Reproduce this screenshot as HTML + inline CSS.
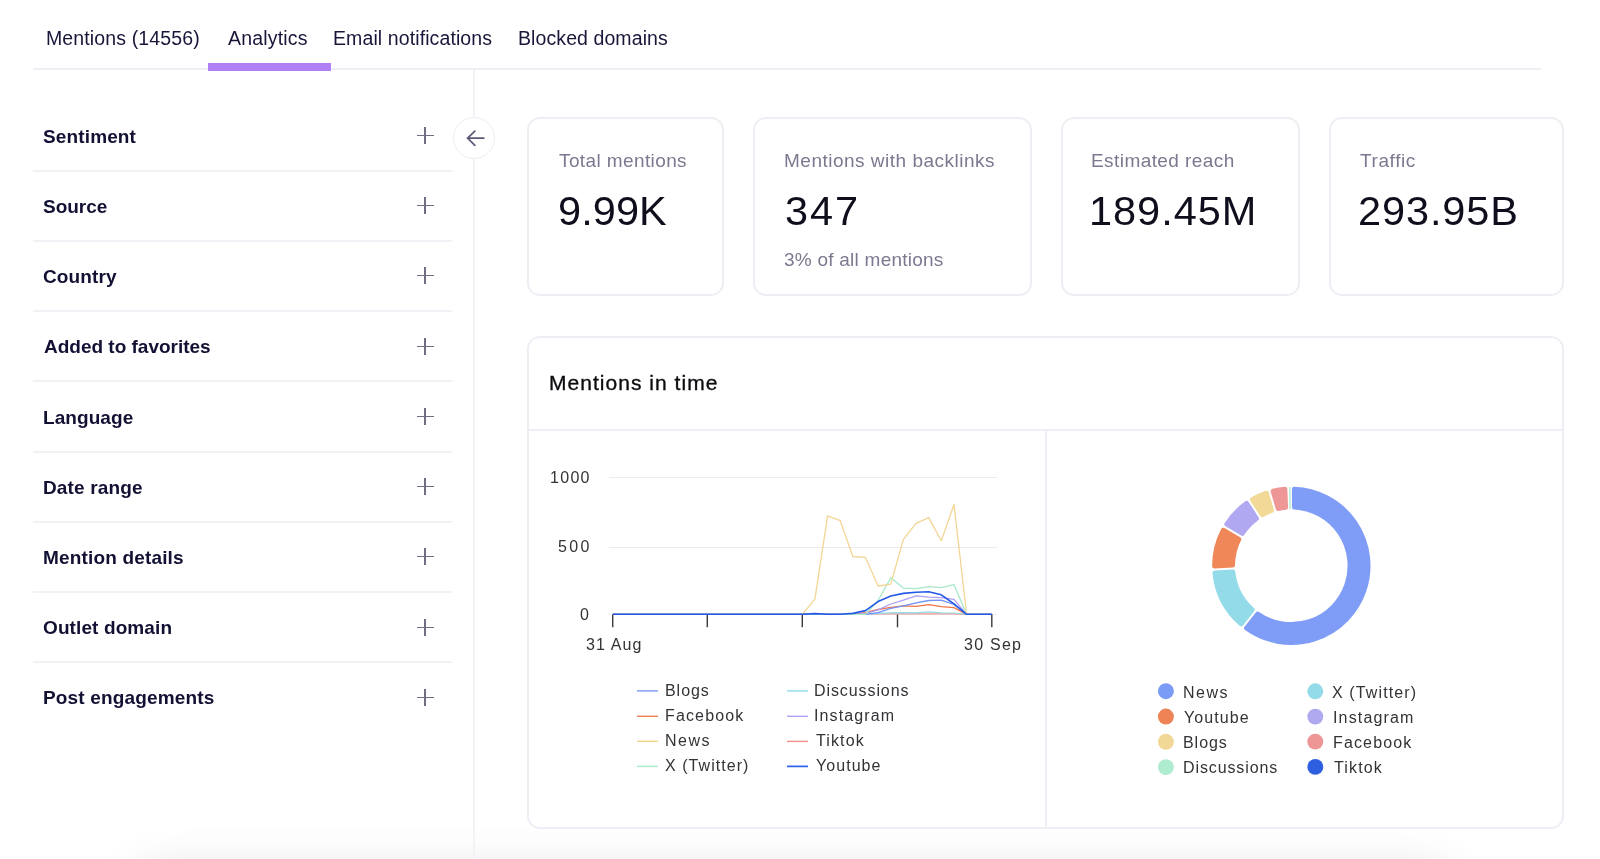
<!DOCTYPE html>
<html>
<head>
<meta charset="utf-8">
<title>Analytics</title>
<style>
*{box-sizing:border-box;margin:0;padding:0}
html,body{width:1600px;height:859px;overflow:hidden;background:#fff}
body{position:relative;font-family:"Liberation Sans",sans-serif;color:#1b1a3c}
.a{position:absolute;white-space:nowrap;will-change:transform}
.dv{position:absolute;left:33px;width:419px;height:2px;background:#f2f1f6}
.plus{position:absolute;width:17px;height:17px;margin-left:-0.4px}
.plus:before,.plus:after{content:"";position:absolute;background:#706e84}
.plus:before{left:0;top:7.6px;width:17px;height:1.8px}
.plus:after{left:7.6px;top:0;width:1.8px;height:17px}
.card{position:absolute;border:2px solid #efeef4;border-radius:13px;background:#fff}
.dot{position:absolute;width:16px;height:16px;border-radius:50%}
.sw{position:absolute;width:21px;height:1.6px}
.shadow{position:absolute;left:135px;top:875px;width:1315px;height:40px;border-radius:20px;box-shadow:0 0 50px 0 rgba(0,0,0,0.155)}
</style>
</head>
<body>
<div class="shadow"></div>
<!-- tabs -->
<div style="position:absolute;left:33px;top:68px;width:1508px;height:2px;background:#efeef4"></div>
<div style="position:absolute;left:208px;top:63px;width:123px;height:8px;background:#b080f5"></div>

<!-- vertical divider -->
<div style="position:absolute;left:473px;top:70px;width:1.5px;height:789px;background:#f3f2f7"></div>

<!-- sidebar dividers -->
<div class="dv" style="top:170px"></div>
<div class="dv" style="top:240px"></div>
<div class="dv" style="top:310px"></div>
<div class="dv" style="top:380px"></div>
<div class="dv" style="top:451px"></div>
<div class="dv" style="top:521px"></div>
<div class="dv" style="top:591px"></div>
<div class="dv" style="top:661px"></div>

<div class="plus" style="left:417px;top:127px"></div>
<div class="plus" style="left:417px;top:197px"></div>
<div class="plus" style="left:417px;top:267px"></div>
<div class="plus" style="left:417px;top:338px"></div>
<div class="plus" style="left:417px;top:408px"></div>
<div class="plus" style="left:417px;top:478px"></div>
<div class="plus" style="left:417px;top:548px"></div>
<div class="plus" style="left:417px;top:619px"></div>
<div class="plus" style="left:417px;top:689px"></div>

<!-- collapse button -->
<div style="position:absolute;left:453px;top:117px;width:42px;height:42px;border-radius:50%;border:1.5px solid #edecf3;background:#fff"></div>

<!-- cards -->
<div class="card" style="left:527px;top:117px;width:197px;height:179px"></div>
<div class="card" style="left:753px;top:117px;width:279px;height:179px"></div>
<div class="card" style="left:1061px;top:117px;width:239px;height:179px"></div>
<div class="card" style="left:1329px;top:117px;width:235px;height:179px"></div>

<!-- chart card -->
<div class="card" style="left:527px;top:336px;width:1037px;height:493px"></div>
<div style="position:absolute;left:529px;top:429px;width:1033px;height:1.5px;background:#efeef4"></div>
<div style="position:absolute;left:1045px;top:430px;width:1.5px;height:397px;background:#efeef4"></div>

<!-- legend swatches -->


<svg style="position:absolute;left:0;top:0" width="1600" height="859" viewBox="0 0 1600 859">
<path d="M483.8 138.2H467.4M474.9 131.1L467.6 138.2L474.9 145.4" fill="none" stroke="#5c5a78" stroke-width="1.7" stroke-linecap="round" stroke-linejoin="round"/>
<line x1="609" y1="477.5" x2="997" y2="477.5" stroke="#ebeaf1" stroke-width="1"/>
<line x1="609" y1="547.5" x2="997" y2="547.5" stroke="#ebeaf1" stroke-width="1"/>
<line x1="609" y1="614.3" x2="997" y2="614.3" stroke="#ebeaf1" stroke-width="1"/>
<line x1="612.7" y1="614.3" x2="612.7" y2="627.3" stroke="#3a3a3e" stroke-width="1.4"/>
<line x1="707.3" y1="614.3" x2="707.3" y2="627.3" stroke="#3a3a3e" stroke-width="1.4"/>
<line x1="802.3" y1="614.3" x2="802.3" y2="627.3" stroke="#3a3a3e" stroke-width="1.4"/>
<line x1="897.5" y1="614.3" x2="897.5" y2="627.3" stroke="#3a3a3e" stroke-width="1.4"/>
<line x1="991.8" y1="614.3" x2="991.8" y2="627.3" stroke="#3a3a3e" stroke-width="1.4"/>
<polyline points="612.7,614.3 625.3,614.3 638.0,614.3 650.6,614.3 663.3,614.3 675.9,614.3 688.5,614.3 701.2,614.3 713.8,614.3 726.5,614.3 739.1,614.3 751.7,614.3 764.4,614.3 777.0,614.3 789.7,614.3 802.3,614.3 814.9,614.3 827.6,614.3 840.2,614.3 852.9,614.3 865.5,613.8 878.1,613.8 890.8,613.8 903.4,613.8 916.1,613.8 928.7,613.8 941.3,613.8 954.0,613.8 966.6,614.3 979.3,614.3 991.9,614.3" fill="none" stroke="#f3938f" stroke-width="1.2" stroke-linejoin="round"/>
<polyline points="612.7,614.3 625.3,614.3 638.0,614.3 650.6,614.3 663.3,614.3 675.9,614.3 688.5,614.3 701.2,614.3 713.8,614.3 726.5,614.3 739.1,614.3 751.7,614.3 764.4,614.3 777.0,614.3 789.7,614.3 802.3,614.3 814.9,614.3 827.6,614.3 840.2,614.3 852.9,614.3 865.5,614.3 878.1,613.3 890.8,612.8 903.4,612.7 916.1,612.9 928.7,611.9 941.3,612.9 954.0,613.0 966.6,614.3 979.3,614.3 991.9,614.3" fill="none" stroke="#8edbe8" stroke-width="1.2" stroke-linejoin="round"/>
<polyline points="612.7,614.3 625.3,614.3 638.0,614.3 650.6,614.3 663.3,614.3 675.9,614.3 688.5,614.3 701.2,614.3 713.8,614.3 726.5,614.3 739.1,614.3 751.7,614.3 764.4,614.3 777.0,614.3 789.7,614.3 802.3,614.3 814.9,614.3 827.6,614.3 840.2,614.3 852.9,614.3 865.5,612.6 878.1,609.5 890.8,607.3 903.4,605.9 916.1,606.3 928.7,604.6 941.3,606.7 954.0,607.7 966.6,614.3 979.3,614.3 991.9,614.3" fill="none" stroke="#ef7447" stroke-width="1.3" stroke-linejoin="round"/>
<polyline points="612.7,614.3 625.3,614.3 638.0,614.3 650.6,614.3 663.3,614.3 675.9,614.3 688.5,614.3 701.2,614.3 713.8,614.3 726.5,614.3 739.1,614.3 751.7,614.3 764.4,614.3 777.0,614.3 789.7,614.3 802.3,614.3 814.9,614.3 827.6,614.3 840.2,614.3 852.9,614.3 865.5,614.3 878.1,612.6 890.8,608.3 903.4,605.9 916.1,602.8 928.7,600.5 941.3,600.1 954.0,604.4 966.6,614.3 979.3,614.3 991.9,614.3" fill="none" stroke="#7393f5" stroke-width="1.3" stroke-linejoin="round"/>
<polyline points="612.7,614.3 625.3,614.3 638.0,614.3 650.6,614.3 663.3,614.3 675.9,614.3 688.5,614.3 701.2,614.3 713.8,614.3 726.5,614.3 739.1,614.3 751.7,614.3 764.4,614.3 777.0,614.3 789.7,614.3 802.3,614.3 814.9,614.3 827.6,614.3 840.2,614.3 852.9,614.3 865.5,613.7 878.1,609.8 890.8,604.0 903.4,600.1 916.1,595.8 928.7,597.2 941.3,597.7 954.0,599.3 966.6,614.3 979.3,614.3 991.9,614.3" fill="none" stroke="#ad9ff5" stroke-width="1.3" stroke-linejoin="round"/>
<polyline points="612.7,614.3 625.3,614.3 638.0,614.3 650.6,614.3 663.3,614.3 675.9,614.3 688.5,614.3 701.2,614.3 713.8,614.3 726.5,614.3 739.1,614.3 751.7,614.3 764.4,614.3 777.0,614.3 789.7,614.3 802.3,614.3 814.9,614.3 827.6,614.3 840.2,614.3 852.9,614.3 865.5,614.3 878.1,600.5 890.8,577.8 903.4,588.1 916.1,588.7 928.7,586.6 941.3,587.6 954.0,584.7 966.6,614.3 979.3,614.3 991.9,614.3" fill="none" stroke="#a6e8c9" stroke-width="1.3" stroke-linejoin="round"/>
<polyline points="612.7,614.3 625.3,614.3 638.0,614.3 650.6,614.3 663.3,614.3 675.9,614.3 688.5,614.3 701.2,614.3 713.8,614.3 726.5,614.3 739.1,614.3 751.7,614.3 764.4,614.3 777.0,614.3 789.7,614.3 802.3,614.3 814.9,599.1 827.6,515.8 840.2,520.7 852.9,556.5 865.5,557.4 878.1,586.0 890.8,584.1 903.4,539.4 916.1,523.3 928.7,517.6 941.3,540.8 954.0,504.5 966.6,614.3 979.3,614.3 991.9,614.3" fill="none" stroke="#f3d594" stroke-width="1.3" stroke-linejoin="round"/>
<polyline points="612.7,614.3 625.3,614.3 638.0,614.3 650.6,614.3 663.3,614.3 675.9,614.3 688.5,614.3 701.2,614.3 713.8,614.3 726.5,614.3 739.1,614.3 751.7,614.3 764.4,614.3 777.0,614.3 789.7,614.3 802.3,614.3 814.9,613.6 827.6,614.3 840.2,614.3 852.9,613.4 865.5,610.6 878.1,601.6 890.8,596.0 903.4,593.4 916.1,592.2 928.7,591.7 941.3,594.8 954.0,603.8 966.6,614.3 979.3,614.3 991.9,614.3" fill="none" stroke="#2458e6" stroke-width="1.6" stroke-linejoin="round"/>
<path d="M1294.30,489.06 A76.80,76.80 0 1 1 1246.42,628.12 L1257.65,613.90 A58.70,58.70 0 1 0 1294.39,507.18 Z" fill="#7f9df7" stroke="#7f9df7" stroke-width="4.8" stroke-linejoin="round"/>
<path d="M1241.08,623.90 A76.80,76.80 0 0 1 1214.82,572.81 L1232.92,571.96 A58.70,58.70 0 0 0 1252.31,609.68 Z" fill="#93dbe9" stroke="#93dbe9" stroke-width="4.8" stroke-linejoin="round"/>
<path d="M1214.50,566.02 A76.80,76.80 0 0 1 1223.28,530.14 L1238.94,539.26 A58.70,58.70 0 0 0 1232.60,565.16 Z" fill="#ef8759" stroke="#ef8759" stroke-width="4.8" stroke-linejoin="round"/>
<path d="M1226.70,524.27 A76.80,76.80 0 0 1 1246.66,503.31 L1256.53,518.50 A58.70,58.70 0 0 0 1242.36,533.38 Z" fill="#b0a8f0" stroke="#b0a8f0" stroke-width="4.8" stroke-linejoin="round"/>
<path d="M1252.36,499.60 A76.80,76.80 0 0 1 1266.50,493.11 L1271.59,510.51 A58.70,58.70 0 0 0 1262.23,514.80 Z" fill="#f2d998" stroke="#f2d998" stroke-width="4.8" stroke-linejoin="round"/>
<path d="M1273.03,491.20 A76.80,76.80 0 0 1 1284.96,489.26 L1285.65,507.37 A58.70,58.70 0 0 0 1278.12,508.60 Z" fill="#ef9796" stroke="#ef9796" stroke-width="4.8" stroke-linejoin="round"/>
<line x1="1290.21" y1="509.01" x2="1289.79" y2="487.11" stroke="#aeeccf" stroke-width="1.4"/>
<line x1="637" y1="690.9" x2="658" y2="690.9" stroke="#7b9cf6" stroke-width="1.4"/>
<line x1="637" y1="716.3" x2="658" y2="716.3" stroke="#f07f58" stroke-width="1.4"/>
<line x1="637" y1="741.3" x2="658" y2="741.3" stroke="#f3d48f" stroke-width="1.4"/>
<line x1="637" y1="766.4" x2="658" y2="766.4" stroke="#abe9cd" stroke-width="1.4"/>
<line x1="787" y1="690.9" x2="808" y2="690.9" stroke="#8fdde8" stroke-width="1.4"/>
<line x1="787" y1="716.3" x2="808" y2="716.3" stroke="#aca4f7" stroke-width="1.4"/>
<line x1="787" y1="741.4" x2="808" y2="741.4" stroke="#f38c8a" stroke-width="1.4"/>
<line x1="787" y1="766.4" x2="808" y2="766.4" stroke="#2e60e8" stroke-width="1.7"/>
<circle cx="1165.9" cy="691.2" r="7.95" fill="#7b9cf6"/>
<circle cx="1165.9" cy="716.55" r="7.95" fill="#ee8456"/>
<circle cx="1165.9" cy="741.8" r="7.95" fill="#f2d897"/>
<circle cx="1165.9" cy="767.1" r="7.95" fill="#aeeccf"/>
<circle cx="1315.3" cy="691.3" r="7.95" fill="#94dbe9"/>
<circle cx="1315.3" cy="716.6" r="7.95" fill="#b1a9f0"/>
<circle cx="1315.3" cy="741.6" r="7.95" fill="#ee9595"/>
<circle cx="1315.3" cy="766.9" r="7.95" fill="#2d5fe0"/>
</svg>

<div class="a" style="left:46.00px;top:29.00px;font-size:19.5px;font-weight:400;line-height:19.5px;color:#18173a;letter-spacing:0.127px">Mentions (14556)</div>
<div class="a" style="left:228.00px;top:29.00px;font-size:19.5px;font-weight:400;line-height:19.5px;color:#18173a;letter-spacing:0.175px">Analytics</div>
<div class="a" style="left:333.00px;top:29.00px;font-size:19.5px;font-weight:400;line-height:19.5px;color:#18173a;letter-spacing:0.103px">Email notifications</div>
<div class="a" style="left:518.00px;top:29.00px;font-size:19.5px;font-weight:400;line-height:19.5px;color:#18173a;letter-spacing:0.089px">Blocked domains</div>
<div class="a" style="left:43.00px;top:127.00px;font-size:19px;font-weight:700;line-height:19px;color:#121134;letter-spacing:0.137px">Sentiment</div>
<div class="a" style="left:43.00px;top:197.00px;font-size:19px;font-weight:700;line-height:19px;color:#121134;letter-spacing:-0.020px">Source</div>
<div class="a" style="left:43.00px;top:267.00px;font-size:19px;font-weight:700;line-height:19px;color:#121134;letter-spacing:0.117px">Country</div>
<div class="a" style="left:44.00px;top:337.00px;font-size:19px;font-weight:700;line-height:19px;color:#121134;letter-spacing:-0.009px">Added to favorites</div>
<div class="a" style="left:43.00px;top:408.00px;font-size:19px;font-weight:700;line-height:19px;color:#121134;letter-spacing:0.071px">Language</div>
<div class="a" style="left:43.00px;top:478.00px;font-size:19px;font-weight:700;line-height:19px;color:#121134;letter-spacing:0.144px">Date range</div>
<div class="a" style="left:43.00px;top:548.00px;font-size:19px;font-weight:700;line-height:19px;color:#121134;letter-spacing:0.164px">Mention details</div>
<div class="a" style="left:43.00px;top:618.00px;font-size:19px;font-weight:700;line-height:19px;color:#121134;letter-spacing:0.108px">Outlet domain</div>
<div class="a" style="left:43.00px;top:688.00px;font-size:19px;font-weight:700;line-height:19px;color:#121134;letter-spacing:0.153px">Post engagements</div>
<div class="a" style="left:559.00px;top:151.00px;font-size:19px;font-weight:400;line-height:19px;color:#7a7990;letter-spacing:0.392px">Total mentions</div>
<div class="a" style="left:784.00px;top:151.00px;font-size:19px;font-weight:400;line-height:19px;color:#7a7990;letter-spacing:0.500px">Mentions with backlinks</div>
<div class="a" style="left:1091.00px;top:151.00px;font-size:19px;font-weight:400;line-height:19px;color:#7a7990;letter-spacing:0.429px">Estimated reach</div>
<div class="a" style="left:1360.00px;top:151.00px;font-size:19px;font-weight:400;line-height:19px;color:#7a7990;letter-spacing:0.600px">Traffic</div>
<div class="a" style="left:558.00px;top:190.00px;font-size:41.5px;font-weight:400;line-height:41.5px;color:#0e0e1c;letter-spacing:0.075px">9.99K</div>
<div class="a" style="left:785.00px;top:190.00px;font-size:41.5px;font-weight:400;line-height:41.5px;color:#0e0e1c;letter-spacing:1.900px">347</div>
<div class="a" style="left:1089.00px;top:190.00px;font-size:41.5px;font-weight:400;line-height:41.5px;color:#0e0e1c;letter-spacing:0.967px">189.45M</div>
<div class="a" style="left:1358.00px;top:190.00px;font-size:41.5px;font-weight:400;line-height:41.5px;color:#0e0e1c;letter-spacing:0.900px">293.95B</div>
<div class="a" style="left:784.00px;top:250.00px;font-size:19px;font-weight:400;line-height:19px;color:#7a7990;letter-spacing:0.241px">3% of all mentions</div>
<div class="a" style="left:549.00px;top:372.00px;font-size:21px;font-weight:400;line-height:21px;color:#0c0c10;letter-spacing:1.033px;-webkit-text-stroke:0.35px #0c0c10">Mentions in time</div>
<div class="a" style="left:550.00px;top:470.00px;font-size:16px;font-weight:400;line-height:16px;color:#333337;letter-spacing:1.300px">1000</div>
<div class="a" style="left:558.00px;top:539.00px;font-size:16px;font-weight:400;line-height:16px;color:#333337;letter-spacing:2.400px">500</div>
<div class="a" style="left:580.00px;top:607.00px;font-size:16px;font-weight:400;line-height:16px;color:#333337;letter-spacing:0.000px">0</div>
<div class="a" style="left:586.00px;top:637.00px;font-size:16px;font-weight:400;line-height:16px;color:#333337;letter-spacing:1.100px">31 Aug</div>
<div class="a" style="left:964.00px;top:637.00px;font-size:16px;font-weight:400;line-height:16px;color:#333337;letter-spacing:1.260px">30 Sep</div>
<div class="a" style="left:665.00px;top:683.00px;font-size:16px;font-weight:400;line-height:16px;color:#333337;letter-spacing:0.950px">Blogs</div>
<div class="a" style="left:665.00px;top:708.00px;font-size:16px;font-weight:400;line-height:16px;color:#333337;letter-spacing:1.143px">Facebook</div>
<div class="a" style="left:665.00px;top:733.00px;font-size:16px;font-weight:400;line-height:16px;color:#333337;letter-spacing:1.467px">News</div>
<div class="a" style="left:665.00px;top:758.00px;font-size:16px;font-weight:400;line-height:16px;color:#333337;letter-spacing:1.050px">X (Twitter)</div>
<div class="a" style="left:814.00px;top:683.00px;font-size:16px;font-weight:400;line-height:16px;color:#333337;letter-spacing:0.910px">Discussions</div>
<div class="a" style="left:814.00px;top:708.00px;font-size:16px;font-weight:400;line-height:16px;color:#333337;letter-spacing:1.112px">Instagram</div>
<div class="a" style="left:816.00px;top:733.00px;font-size:16px;font-weight:400;line-height:16px;color:#333337;letter-spacing:1.120px">Tiktok</div>
<div class="a" style="left:816.00px;top:758.00px;font-size:16px;font-weight:400;line-height:16px;color:#333337;letter-spacing:1.050px">Youtube</div>
<div class="a" style="left:1183.00px;top:685.00px;font-size:16px;font-weight:400;line-height:16px;color:#333337;letter-spacing:1.467px">News</div>
<div class="a" style="left:1184.00px;top:710.00px;font-size:16px;font-weight:400;line-height:16px;color:#333337;letter-spacing:1.100px">Youtube</div>
<div class="a" style="left:1183.00px;top:735.00px;font-size:16px;font-weight:400;line-height:16px;color:#333337;letter-spacing:0.950px">Blogs</div>
<div class="a" style="left:1183.00px;top:760.00px;font-size:16px;font-weight:400;line-height:16px;color:#333337;letter-spacing:0.890px">Discussions</div>
<div class="a" style="left:1332.00px;top:685.00px;font-size:16px;font-weight:400;line-height:16px;color:#333337;letter-spacing:1.120px">X (Twitter)</div>
<div class="a" style="left:1333.00px;top:710.00px;font-size:16px;font-weight:400;line-height:16px;color:#333337;letter-spacing:1.163px">Instagram</div>
<div class="a" style="left:1333.00px;top:735.00px;font-size:16px;font-weight:400;line-height:16px;color:#333337;letter-spacing:1.143px">Facebook</div>
<div class="a" style="left:1334.00px;top:760.00px;font-size:16px;font-weight:400;line-height:16px;color:#333337;letter-spacing:1.140px">Tiktok</div>
</body>
</html>
